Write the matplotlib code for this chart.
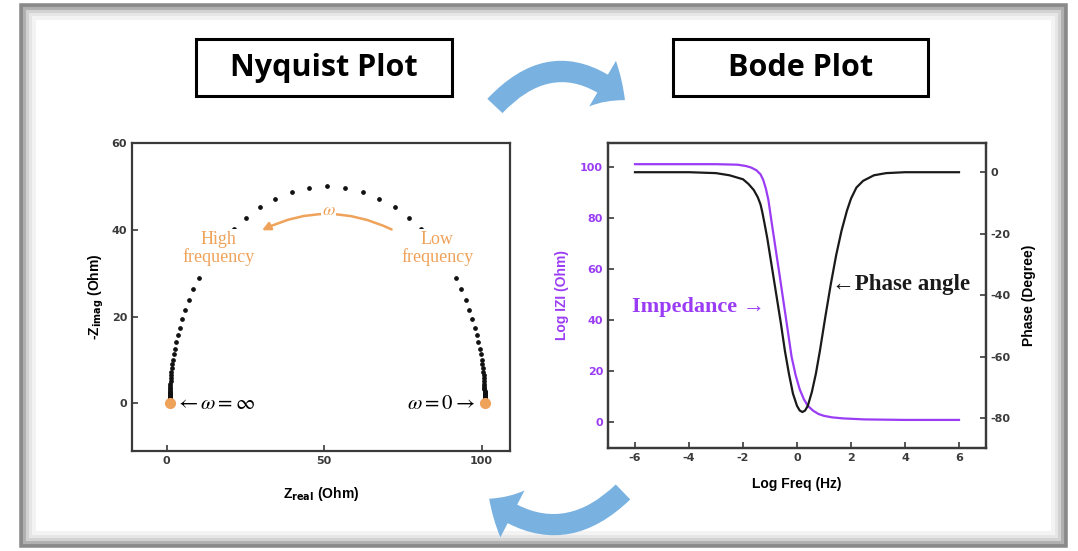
import matplotlib
matplotlib.use('Agg')
import matplotlib.pyplot as plt
from matplotlib.patches import Rectangle, FancyArrowPatch

plt.rcParams['axes.unicode_minus'] = False

# Nyquist data (high frequency on the left -> low frequency on the right)
z_real = [1.01, 1.01, 1.02, 1.02, 1.03, 1.03, 1.04, 1.05, 1.07, 1.08,
          1.11, 1.13, 1.17, 1.21, 1.26, 1.33, 1.41, 1.52, 1.65, 1.82,
          2.03, 2.29, 2.61, 3.02, 3.52, 4.15, 4.92, 5.88, 7.05, 8.49,
          10.24, 12.34, 14.85, 17.81, 21.24, 25.19, 29.61, 34.50, 39.77, 45.31,
          51.0,
          56.69, 62.23, 67.50, 72.39, 76.81, 80.76, 84.19, 87.15, 89.66, 91.76,
          93.51, 94.95, 96.12, 97.08, 97.85, 98.48, 98.98, 99.39, 99.71, 99.97,
          100.18, 100.35, 100.48, 100.59, 100.67, 100.74, 100.79, 100.83, 100.87, 100.89,
          100.92, 100.93, 100.95, 100.96, 100.97, 100.97, 100.98, 100.98, 100.99, 100.99]
z_imag = [1.03, 1.16, 1.30, 1.46, 1.63, 1.83, 2.05, 2.30, 2.58, 2.90,
          3.25, 3.63, 4.07, 4.56, 5.12, 5.73, 6.41, 7.18, 8.05, 9.01,
          10.07, 11.26, 12.58, 14.05, 15.67, 17.45, 19.41, 21.54, 23.84, 26.32,
          28.95, 31.70, 34.54, 37.39, 40.18, 42.82, 45.20, 47.20, 48.72, 49.67,
          50.0,
          49.67, 48.72, 47.20, 45.20, 42.82, 40.18, 37.39, 34.54, 31.70, 28.95,
          26.32, 23.84, 21.54, 19.41, 17.45, 15.67, 14.05, 12.58, 11.26, 10.07,
          9.01, 8.05, 7.18, 6.41, 5.73, 5.12, 4.56, 4.07, 3.63, 3.25,
          2.90, 2.58, 2.30, 2.05, 1.83, 1.63, 1.46, 1.30, 1.16, 1.03]
end_real = [1, 101]
end_imag = [0, 0]

# Bode data
freq_mag = [-6, -4, -3, -2.2, -1.9, -1.7, -1.5, -1.35, -1.25, -1.15, -1.06,
            -0.95, -0.8, -0.65, -0.5, -0.35, -0.2, -0.05, 0.1, 0.25, 0.4,
            0.6, 0.8, 1.0, 1.3, 1.7, 2.5, 4, 6]
mag = [101.2, 101.2, 101.2, 101.0, 100.5, 99.9, 98.8, 97.2, 95.0, 91.5, 87.2,
       79.2, 68.6, 58.1, 47.3, 36.6, 25.7, 18.5, 13.0, 9.2, 6.5,
       4.6, 3.3, 2.6, 2.0, 1.6, 1.2, 1.0, 1.0]

freq_phase = [-6, -4, -3, -2.5, -2.0, -1.8, -1.6, -1.45, -1.35, -1.28, -1.2, -1.1, -1.0,
              -0.8, -0.6, -0.45, -0.3, -0.15, 0.0, 0.1, 0.2, 0.3, 0.4,
              0.55, 0.7, 0.85, 1.05, 1.25, 1.45, 1.65, 1.85, 2.0, 2.2, 2.45,
              2.85, 3.3, 4, 5, 6]
phase = [0, 0, -0.3, -1.0, -2.3, -3.8, -5.8, -8.2, -10.5, -13.2, -16.8, -21.5, -27,
         -38, -49, -58, -65.5, -72, -76, -77.5, -78, -77.5, -76,
         -71.5, -65.5, -58, -47, -36.5, -27, -19, -12.5, -8.6, -5.0, -2.8,
         -1.0, -0.3, 0, 0, 0]

purple = '#9B3CF5'
orange = '#EFA25A'
sans = ['Liberation Sans', 'DejaVu Sans']
serif = ['Liberation Serif', 'DejaVu Serif']

fig = plt.figure(figsize=(10.78, 5.51), dpi=100)
fig.patch.set_facecolor('white')

# outer grey frame with a soft inner shade
W, H = 1078.0, 551.0
for inset, col, lw in [(0, '#8a8a8a', 4.0), (3, '#b0b0b0', 3.0), (6, '#d2d2d2', 3.0),
                       (9, '#e6e6e6', 3.0), (12, '#f3f3f3', 3.0)]:
    x0, y0, x1, y1 = 22 + inset, 6 + inset, 1065 - inset, 545 - inset
    fig.add_artist(Rectangle((x0 / W, 1 - y1 / H), (x1 - x0) / W, (y1 - y0) / H,
                             transform=fig.transFigure, fill=False,
                             edgecolor=col, linewidth=lw))

# title boxes
for (x0, x1), title in [((196, 452), 'Nyquist Plot'), ((673, 928), 'Bode Plot')]:
    fig.add_artist(Rectangle((x0 / W, 1 - 96 / H), (x1 - x0) / W, 57 / H,
                             transform=fig.transFigure, fill=False,
                             edgecolor='black', linewidth=2.2))
    fig.text((x0 + x1) / 2 / W, 1 - 68 / H, title, ha='center', va='center',
             fontsize=22, fontweight='bold', family=['Open Sans', 'DejaVu Sans'])

# curved blue arrows between the panels
top_arrow = FancyArrowPatch((493 / W, 1 - 108 / H), (627 / W, 1 - 102 / H),
                            transform=fig.transFigure,
                            connectionstyle='arc3,rad=-0.5',
                            arrowstyle='simple,head_length=20,head_width=38,tail_width=15',
                            color='#6aaade', alpha=0.9, linewidth=0)
fig.add_artist(top_arrow)
bottom_arrow = FancyArrowPatch((625 / W, 1 - 490 / H), (487 / W, 1 - 497 / H),
                               transform=fig.transFigure,
                               connectionstyle='arc3,rad=-0.45',
                               arrowstyle='simple,head_length=20,head_width=38,tail_width=15',
                               color='#6aaade', alpha=0.9, linewidth=0)
fig.add_artist(bottom_arrow)

def style_axes(ax):
    for s in ax.spines.values():
        s.set_linewidth(1.6)
        s.set_color('#3a3a3a')
    ax.tick_params(direction='in', length=4, width=1.2, labelsize=8, colors='#3a3a3a')

# ---- Nyquist plot ----
ax1 = fig.add_axes([132 / W, 1 - 451 / H, 378 / W, 308 / H])
ax1.plot(z_real, z_imag, 'o', color='#111111', markersize=2.4)
ax1.plot(end_real, end_imag, 'o', color=orange, markersize=7, zorder=5)
ax1.set_xlim(-11, 109)
ax1.set_ylim(-11, 60)
ax1.set_xticks([0, 50, 100])
ax1.set_yticks([0, 20, 40, 60])
style_axes(ax1)
for lab in ax1.get_xticklabels() + ax1.get_yticklabels():
    lab.set_fontweight('bold')
ax1.set_xlabel(r'Z$_{\mathbf{real}}$ (Ohm)', fontsize=10, fontweight='bold', family=sans, labelpad=14)
ax1.set_ylabel(r'-Z$_{\mathbf{imag}}$ (Ohm)', fontsize=10, fontweight='bold', family=sans, labelpad=4)

ax1.text(16.6, 35.6, 'High\nfrequency', color=orange, fontsize=13, family=serif,
         ha='center', va='center', linespacing=1.0,
         bbox=dict(facecolor='white', edgecolor='none', pad=2))
ax1.text(85.9, 35.6, 'Low\nfrequency', color=orange, fontsize=13, family=serif,
         ha='center', va='center', linespacing=1.0,
         bbox=dict(facecolor='white', edgecolor='none', pad=2))
ax1.annotate('', xy=(29.5, 39.6), xytext=(72.2, 39.8),
             arrowprops=dict(arrowstyle='-|>', color=orange, lw=1.8,
                             connectionstyle='arc3,rad=0.25', mutation_scale=12))
ax1.text(51.5, 44.6, r'$\omega$', color=orange, fontsize=13, ha='center', va='center',
         math_fontfamily='stix', bbox=dict(facecolor='white', edgecolor='none', pad=0.5))
ax1.text(2.6, 0, r'$\leftarrow\omega = \infty$', fontsize=15, ha='left', va='center',
         math_fontfamily='stix')
ax1.text(97.8, 0, r'$\omega = 0 \rightarrow$', fontsize=15, ha='right', va='center',
         math_fontfamily='stix')

# ---- Bode plot ----
ax2 = fig.add_axes([608 / W, 1 - 448 / H, 378 / W, 305 / H])
ax2.plot(freq_mag, mag, color=purple, linewidth=1.6)
ax2.set_xlim(-7, 7)
ax2.set_ylim(-10, 109.5)
ax2.set_xticks([-6, -4, -2, 0, 2, 4, 6])
ax2.set_yticks([0, 20, 40, 60, 80, 100])
style_axes(ax2)
ax2.tick_params(axis='y', colors='#3a3a3a', labelcolor=purple)
for lab in ax2.get_xticklabels() + ax2.get_yticklabels():
    lab.set_fontweight('bold')
ax2.set_xlabel('Log Freq (Hz)', fontsize=10, fontweight='bold', family=sans, labelpad=10)
ax2.set_ylabel('Log IZI (Ohm)', fontsize=10, fontweight='bold', family=sans,
               color=purple, labelpad=8)

ax3 = ax2.twinx()
ax3.plot(freq_phase, phase, color='#1a1a1a', linewidth=1.6)
ax3.set_ylim(-89.7, 9.5)
ax3.set_yticks([0, -20, -40, -60, -80])
style_axes(ax3)
for lab in ax3.get_yticklabels():
    lab.set_fontweight('bold')
ax3.set_ylabel('Phase (Degree)', fontsize=10, fontweight='bold', family=sans, labelpad=8)

ax2.text(-6.1, 45.2, 'Impedance \u2192', color=purple, fontsize=16, fontweight='bold',
         family=serif, ha='left', va='center')
ax3.text(1.3, -36.6, '\u2190Phase angle', color='#1a1a1a', fontsize=16.5, fontweight='bold',
         family=serif, ha='left', va='center')

fig.savefig('out.png', dpi=100)
